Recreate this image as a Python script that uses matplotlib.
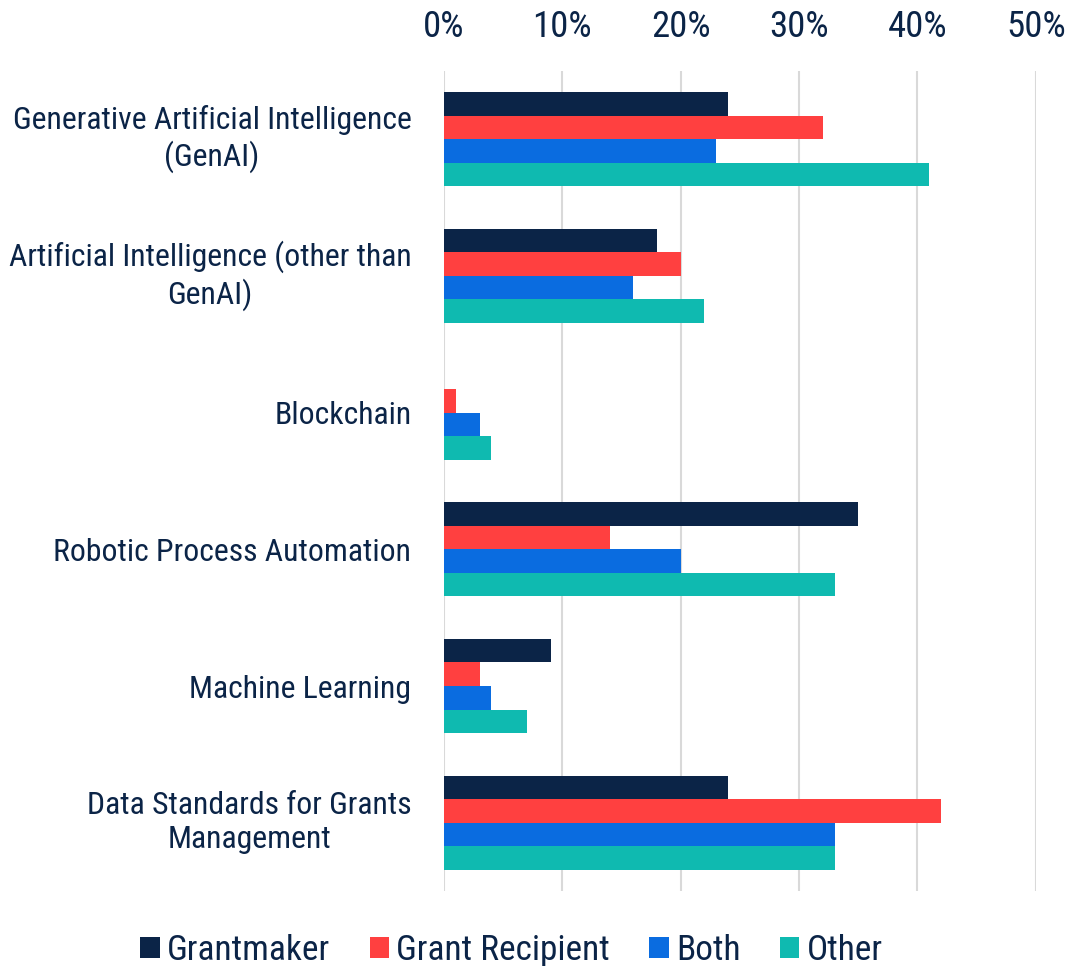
import matplotlib
matplotlib.use("Agg")
import matplotlib.pyplot as plt
import numpy as np
from matplotlib import font_manager
from matplotlib.ticker import FuncFormatter

categories = [
    "Generative Artificial Intelligence\n(GenAI)",
    "Artificial Intelligence (other than\nGenAI)",
    "Blockchain",
    "Robotic Process Automation",
    "Machine Learning",
    "Data Standards for Grants\nManagement",
]
series_names = ["Grantmaker", "Grant Recipient", "Both", "Other"]
grantmaker = [24, 18, 0, 35, 9, 24]
grant_recipient = [32, 20, 1, 14, 3, 42]
both = [23, 16, 3, 20, 4, 33]
other = [41, 22, 4, 33, 7, 33]
x_ticks = [0, 10, 20, 30, 40, 50]

colors = ["#0b2447", "#ff4040", "#0a6ce0", "#0fbab0"]
text_color = "#0b2447"

available = {f.name for f in font_manager.fontManager.ttflist}
fam = ["Liberation Sans Narrow", "Roboto Condensed", "Liberation Sans", "DejaVu Sans"]
fam = [f for f in fam if f in available] or ["DejaVu Sans"]
plt.rcParams["font.family"] = fam

fig = plt.figure(figsize=(10.7, 9.66), dpi=100)
ax = fig.add_axes([0.415, 0.0776, 0.553, 0.849])

data = [grantmaker, grant_recipient, both, other]
n = len(categories)
y = np.arange(n)
h = 0.172
for i, (vals, c) in enumerate(zip(data, colors)):
    ax.barh(y + (i - 1.5) * h, vals, height=h, color=c, label=series_names[i], zorder=3)

ax.set_ylim(n - 0.5, -0.5)
ax.set_xlim(0, 50)
ax.set_xticks(x_ticks)
ax.xaxis.set_major_formatter(FuncFormatter(lambda v, p: f"{int(v)}%"))
ax.xaxis.tick_top()
ax.tick_params(axis="x", length=0, labelsize=26.5, colors=text_color, pad=19)
ax.set_yticks(y)
ax.set_yticklabels(categories, fontsize=22.9, color=text_color, linespacing=1.22)
ax.tick_params(axis="y", length=0, pad=23.5)
for lab in ax.get_yticklabels():
    lab.set_horizontalalignment("right")
    lab.set_multialignment("center")
    if "\n" in lab.get_text():
        lab.set_verticalalignment("center")
ax.grid(axis="x", color="#d9d9d9", linewidth=1.5, zorder=0)
for s in ax.spines.values():
    s.set_visible(False)

leg = fig.legend(loc="lower center", bbox_to_anchor=(0.478, -0.034), ncol=4, frameon=False,
                 fontsize=25.5, handlelength=0.56, handleheight=0.56, handletextpad=0.2,
                 columnspacing=1.1, labelcolor=text_color)

fig.savefig("out.png", dpi=100)
